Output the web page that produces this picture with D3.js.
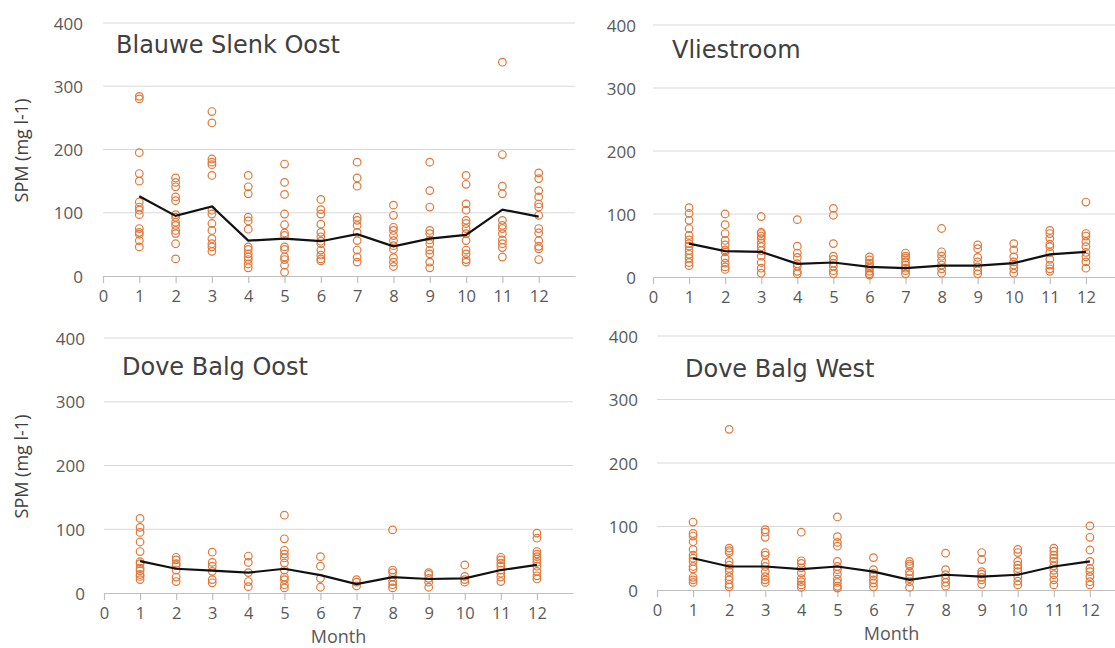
<!DOCTYPE html>
<html>
<head>
<meta charset="utf-8">
<script src="https://cdn.jsdelivr.net/npm/d3@7"></script>
<style>
  html, body { margin: 0; padding: 0; background: #ffffff; }
  svg { display: block; }
</style>
</head>
<body>
<svg id="chart" width="1115" height="648"></svg>
<script>
// ---------------- DATA ----------------
const months = [1, 2, 3, 4, 5, 6, 7, 8, 9, 10, 11, 12];
const xTickValues = [0, 1, 2, 3, 4, 5, 6, 7, 8, 9, 10, 11, 12];
const yTickValues = [0, 100, 200, 300, 400];
const panelTitles = ["Blauwe Slenk Oost", "Vliestroom", "Dove Balg Oost", "Dove Balg West"];
const yAxisTitle = "SPM (mg l-1)";
const xAxisTitle = "Month";

// SPM observations per month (mg l-1)
const blauweSlenkOost = [
  [284, 280, 195, 162, 150, 117, 109, 104, 97, 75, 69, 66, 56, 46],
  [155, 148, 141, 125, 119, 97, 93, 85, 80, 72, 67, 51, 27],
  [260, 242, 185, 180, 176, 159, 104, 98, 83, 72, 59, 51, 46, 39],
  [159, 141, 130, 93, 87, 74, 46, 42, 35, 30, 26, 19, 13],
  [177, 148, 129, 98, 81, 68, 64, 46, 42, 30, 26, 17, 6],
  [121, 105, 98, 82, 69, 62, 55, 51, 41, 33, 27, 24],
  [180, 155, 142, 93, 88, 80, 69, 56, 41, 30, 22],
  [112, 96, 77, 72, 64, 56, 48, 42, 29, 22, 15],
  [180, 135, 109, 72, 67, 57, 51, 41, 35, 22, 13],
  [159, 145, 114, 104, 88, 83, 75, 67, 56, 41, 35, 26, 22],
  [338, 192, 142, 130, 88, 80, 75, 67, 57, 51, 45, 30],
  [163, 154, 135, 125, 114, 109, 96, 75, 68, 56, 47, 43, 26]
];
const blauweSlenkOostMean = [126, 95, 110, 56, 59, 55, 66, 47, 59, 65, 105, 94];

const vliestroom = [
  [110, 101, 90, 77, 66, 59, 53, 49, 42, 36, 30, 23, 18],
  [100, 83, 69, 58, 51, 43, 40, 30, 22, 16, 12],
  [96, 71, 69, 65, 61, 54, 48, 42, 33, 23, 14, 6],
  [91, 49, 38, 31, 21, 17, 9, 5],
  [109, 98, 53, 33, 28, 22, 17, 10, 5],
  [32, 27, 22, 18, 14, 9, 5, 3],
  [38, 33, 30, 24, 19, 14, 10, 5],
  [77, 40, 33, 26, 19, 13, 6],
  [51, 45, 31, 24, 16, 10, 5],
  [53, 43, 32, 24, 19, 13, 6],
  [74, 69, 61, 52, 48, 39, 28, 19, 13, 9],
  [119, 69, 65, 56, 48, 39, 32, 24, 14]
];
const vliestroomMean = [53, 41, 40, 21, 23, 16, 14, 18, 18, 22, 36, 40];

const doveBalgOost = [
  [117, 103, 95, 80, 65, 49, 46, 39, 35, 29, 26, 21],
  [56, 52, 46, 43, 36, 25, 18],
  [64, 48, 42, 34, 21, 16],
  [58, 48, 32, 18, 10],
  [122, 85, 67, 61, 55, 47, 36, 25, 21, 13, 8],
  [57, 42, 23, 9],
  [21, 17, 11],
  [99, 36, 32, 25, 18, 13, 8],
  [32, 29, 23, 17, 9],
  [44, 26, 21, 17],
  [56, 52, 47, 42, 36, 31, 25, 18],
  [94, 86, 65, 61, 57, 53, 48, 42, 34, 27, 22]
];
const doveBalgOostMean = [50, 38, 35, 32, 38, 28, 14, 25, 22, 23, 36, 44];

const doveBalgWest = [
  [107, 89, 85, 76, 64, 55, 50, 45, 37, 33, 20, 16, 12],
  [253, 66, 62, 59, 45, 39, 34, 29, 21, 16, 9, 5],
  [95, 91, 83, 59, 55, 43, 37, 29, 21, 16, 12],
  [91, 46, 42, 35, 27, 18, 13, 8, 4],
  [115, 84, 75, 69, 45, 37, 32, 25, 17, 12, 6, 3],
  [51, 32, 26, 22, 16, 11, 5],
  [45, 41, 38, 29, 24, 18, 13, 4],
  [58, 32, 24, 18, 12, 6],
  [59, 48, 29, 25, 20, 16, 9],
  [64, 59, 45, 39, 34, 29, 21, 14, 8],
  [66, 61, 55, 50, 45, 38, 31, 24, 16, 8],
  [101, 83, 63, 45, 34, 29, 21, 13, 8]
];
const doveBalgWestMean = [50, 37, 37, 33, 37, 29, 16, 24, 21, 24, 37, 45];

// ---------------- LAYOUT ----------------
const panels = [
  { title: panelTitles[0], obs: blauweSlenkOost, mean: blauweSlenkOostMean,
    xr: [103, 575], yr: [276, 23], labelRight: 83, titleX: 116, titleY: 53, yTitle: true, xTitle: false },
  { title: panelTitles[1], obs: vliestroom, mean: vliestroomMean,
    xr: [653, 1122], yr: [277, 25], labelRight: 636, titleX: 672, titleY: 58, yTitle: false, xTitle: false },
  { title: panelTitles[2], obs: doveBalgOost, mean: doveBalgOostMean,
    xr: [104, 573], yr: [593, 338], labelRight: 85, titleX: 122, titleY: 375, yTitle: true, xTitle: true },
  { title: panelTitles[3], obs: doveBalgWest, mean: doveBalgWestMean,
    xr: [657, 1126], yr: [590, 336], labelRight: 638, titleX: 685, titleY: 377, yTitle: false, xTitle: true }
];

const svg = d3.select("#chart");
const tickFont = "'Open Sans', 'Liberation Sans', sans-serif";
const titleFont = "'DejaVu Sans', Verdana, sans-serif";

panels.forEach(p => {
  const x = d3.scaleLinear().domain([0, 13]).range(p.xr);
  const y = d3.scaleLinear().domain([0, 400]).range(p.yr);
  const g = svg.append("g");

  // gridlines
  g.selectAll("line.grid").data(yTickValues.filter(v => v > 0)).join("line")
    .attr("class", "grid")
    .attr("x1", p.xr[0]).attr("x2", p.xr[1])
    .attr("y1", d => y(d)).attr("y2", d => y(d))
    .attr("stroke", "#d9d9d9").attr("stroke-width", 1);

  // y tick labels
  g.selectAll("text.ylab").data(yTickValues).join("text")
    .attr("class", "ylab")
    .attr("x", p.labelRight).attr("y", d => y(d))
    .attr("text-anchor", "end").attr("dominant-baseline", "central")
    .attr("font-family", tickFont).attr("font-size", 17).attr("fill", "#595959")
    .text(d => d);

  // x axis
  const xAxis = d3.axisBottom(x).tickValues(xTickValues).tickSize(7).tickSizeOuter(0).tickPadding(7)
    .tickFormat(d3.format("d"));
  const ax = g.append("g").attr("transform", `translate(0,${y(0)})`).call(xAxis);
  ax.select(".domain").attr("stroke", "#bfbfbf").attr("stroke-width", 1.2);
  ax.selectAll(".tick line").attr("stroke", "#bfbfbf").attr("stroke-width", 1.2);
  ax.selectAll(".tick text").attr("font-family", tickFont).attr("font-size", 16.5).attr("fill", "#595959");

  // observations
  const pts = [];
  p.obs.forEach((arr, i) => arr.forEach(v => pts.push({ m: months[i], v })));
  g.selectAll("circle").data(pts).join("circle")
    .attr("cx", d => x(d.m)).attr("cy", d => y(d.v)).attr("r", 3.8)
    .attr("fill", "none").attr("stroke", "#e0783a").attr("stroke-width", 1.2);

  // mean line
  const line = d3.line().x((d, i) => x(months[i])).y(d => y(d));
  g.append("path").datum(p.mean).attr("d", line)
    .attr("fill", "none").attr("stroke", "#111111").attr("stroke-width", 2.2);

  // panel title
  g.append("text").attr("x", p.titleX).attr("y", p.titleY)
    .attr("font-family", titleFont).attr("font-size", 24).attr("fill", "#404040")
    .text(p.title);

  if (p.yTitle) {
    const cy = (p.yr[0] + p.yr[1]) / 2 + 1;
    g.append("text").attr("transform", `translate(28,${cy}) rotate(-90)`)
      .attr("text-anchor", "middle")
      .attr("font-family", tickFont).attr("font-size", 18).attr("fill", "#404040")
      .text(yAxisTitle);
  }
  if (p.xTitle) {
    g.append("text").attr("x", x(6.5)).attr("y", Math.min(p.yr[0] + 50, 642.5))
      .attr("text-anchor", "middle")
      .attr("font-family", tickFont).attr("font-size", 18).attr("fill", "#595959")
      .text(xAxisTitle);
  }
});
</script>
</body>
</html>
